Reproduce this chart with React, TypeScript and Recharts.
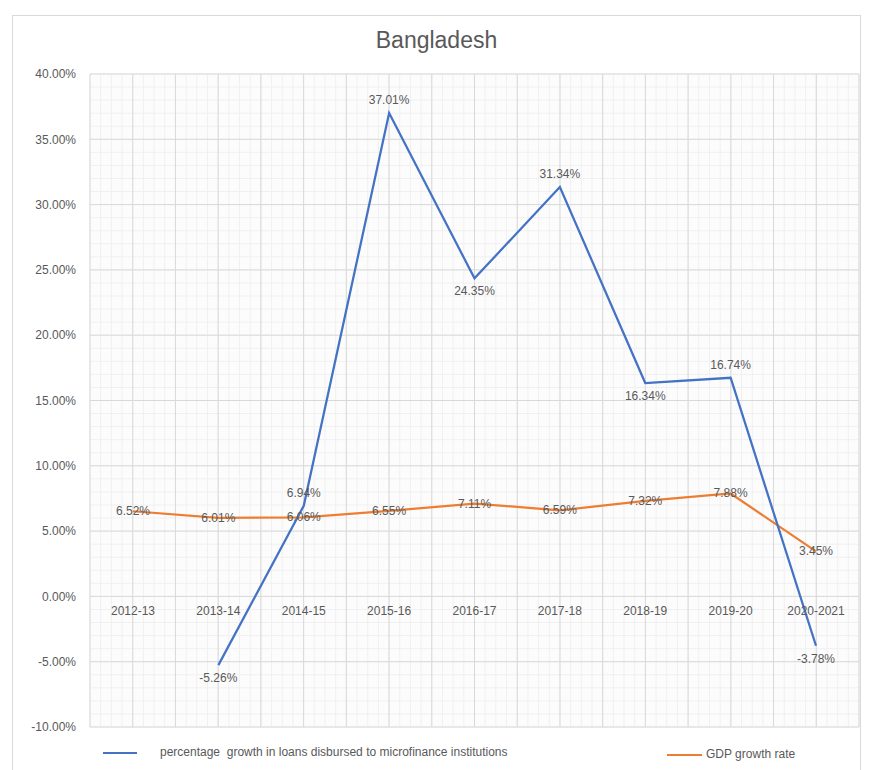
import React from 'react';
import {
  LineChart,
  Line,
  XAxis,
  YAxis,
  CartesianGrid,
  LabelList,
  Legend,
} from 'recharts';

const years = ['2012-13', '2013-14', '2014-15', '2015-16', '2016-17', '2017-18', '2018-19', '2019-20', '2020-2021'];
const loanGrowth: (number | null)[] = [null, -5.26, 6.94, 37.01, 24.35, 31.34, 16.34, 16.74, -3.78];
const gdpGrowth = [6.52, 6.01, 6.06, 6.55, 7.11, 6.59, 7.32, 7.88, 3.45];
const yTicks = [-10, -5, 0, 5, 10, 15, 20, 25, 30, 35, 40];

const LOAN_NAME = 'percentage  growth in loans disbursed to microfinance institutions';
const GDP_NAME = 'GDP growth rate';

const data = years.map((year, i) => ({
  year,
  loan: loanGrowth[i],
  gdp: gdpGrowth[i],
  axis: 0,
}));

const BLUE = '#4472C4';
const ORANGE = '#ED7D31';
const TEXT = '#595959';
const FONT = '"Liberation Sans", Arial, sans-serif';

const fmt = (v: number) => `${v.toFixed(2)}%`;

const isLocalMin = (i: number) => {
  const v = loanGrowth[i] as number;
  const nb = [loanGrowth[i - 1], loanGrowth[i + 1]].filter((n) => n !== null && n !== undefined) as number[];
  return nb.every((n) => v < n);
};

const LoanLabel = (props: any) => {
  const { x, y, value, index } = props;
  if (value === null || value === undefined) return null;
  const below = isLocalMin(index);
  return (
    <text x={x} y={below ? y + 17 : y - 9} textAnchor="middle" fill={TEXT} fontSize={12} fontFamily={FONT}>
      {fmt(value)}
    </text>
  );
};

const GdpLabel = (props: any) => {
  const { x, y, value } = props;
  return (
    <text x={x} y={y + 4} textAnchor="middle" fill={TEXT} fontSize={12} fontFamily={FONT}>
      {fmt(value)}
    </text>
  );
};

const CatLabel = (props: any) => {
  const { x, y, value } = props;
  return (
    <text x={x} y={y + 19} textAnchor="middle" fill={TEXT} fontSize={12} fontFamily={FONT}>
      {value}
    </text>
  );
};

const LegendContent = () => (
  <div style={{ position: 'relative', width: 869, height: 24, fontFamily: FONT, fontSize: 12, color: TEXT }}>
    <div style={{ position: 'absolute', left: 103, top: 10, width: 34, height: 2, background: BLUE }} />
    <div style={{ position: 'absolute', left: 160, top: 3, whiteSpace: 'pre' }}>{LOAN_NAME}</div>
    <div style={{ position: 'absolute', left: 667, top: 12, width: 35, height: 2, background: ORANGE }} />
    <div style={{ position: 'absolute', left: 706, top: 5, whiteSpace: 'pre' }}>{GDP_NAME}</div>
  </div>
);

export default function App() {
  return (
    <div style={{ position: 'absolute', left: 0, top: 0, width: 869, height: 770, background: '#fff', overflow: 'hidden' }}>
      <div
        style={{
          position: 'absolute',
          left: 12,
          top: 15,
          width: 849,
          height: 770,
          border: '1px solid #d9d9d9',
          boxSizing: 'border-box',
        }}
      />
      <div
        style={{
          position: 'absolute',
          left: 0,
          width: 869,
          top: 27,
          textAlign: 'center',
          fontFamily: FONT,
          fontSize: 23,
          color: TEXT,
          paddingLeft: 2,
        }}
      >
        Bangladesh
      </div>
      <div style={{ position: 'absolute', left: 0, top: 0 }}>
        <LineChart width={869} height={770} data={data} margin={{ top: 74, right: 10, bottom: 43, left: 0 }}>
          <CartesianGrid
            stroke="#f0f0f0"
            fill="#fcfcfc"
            horizontalCoordinatesGenerator={({ offset }: any) =>
              Array.from({ length: 51 }, (_, k) => offset.top + (k * offset.height) / 50)
            }
            verticalCoordinatesGenerator={({ offset }: any) =>
              Array.from({ length: 73 }, (_, k) => offset.left + (k * offset.width) / 72)
            }
          />
          <CartesianGrid
            stroke="#d9d9d9"
            verticalCoordinatesGenerator={({ offset }: any) =>
              Array.from({ length: 19 }, (_, k) => offset.left + (k * offset.width) / 18)
            }
          />
          <XAxis dataKey="year" type="category" hide padding={{ left: 43, right: 43 }} />
          <YAxis
            type="number"
            domain={[-10, 40]}
            ticks={yTicks}
            width={90}
            axisLine={false}
            tickLine={false}
            tickSize={0}
            tickMargin={14}
            tickFormatter={(v: number) => fmt(v)}
            tick={{ fill: TEXT, fontSize: 12, fontFamily: FONT }}
          />
          <Line dataKey="axis" stroke="none" dot={false} activeDot={false} isAnimationActive={false} legendType="none">
            <LabelList dataKey="year" content={CatLabel} />
          </Line>
          <Line
            dataKey="gdp"
            name={GDP_NAME}
            stroke={ORANGE}
            strokeWidth={2.25}
            dot={false}
            activeDot={false}
            isAnimationActive={false}
          >
            <LabelList dataKey="gdp" content={GdpLabel} />
          </Line>
          <Line
            dataKey="loan"
            name={LOAN_NAME}
            stroke={BLUE}
            strokeWidth={2.25}
            dot={false}
            activeDot={false}
            isAnimationActive={false}
          >
            <LabelList dataKey="loan" content={LoanLabel} />
          </Line>
          <Legend
            layout="vertical"
            align="center"
            verticalAlign="middle"
            content={LegendContent}
            wrapperStyle={{ position: 'absolute', top: 742, left: 0, width: 869 }}
          />
        </LineChart>
      </div>
    </div>
  );
}
